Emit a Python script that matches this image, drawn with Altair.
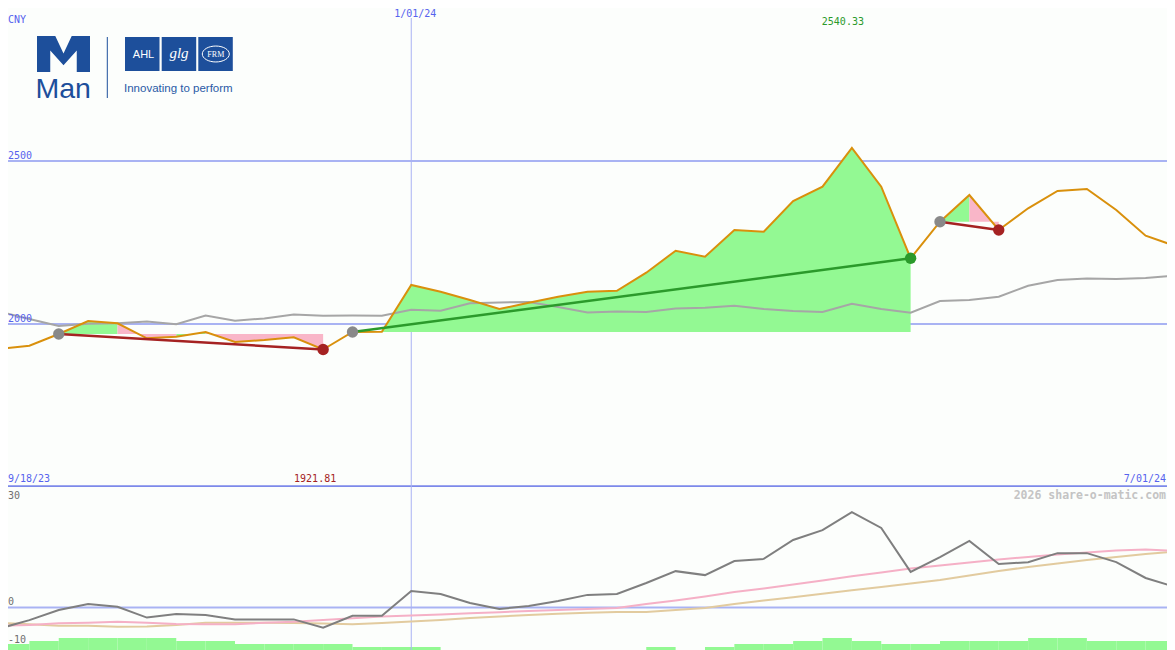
import math
import altair as alt
import pandas as pd

# ---------------- data (weekly closes, 9/25/23 .. 7/01/24) ----------------
week = list(range(41))
price = [1924.2, 1933.4, 1969.3, 2009.2, 2002.1, 1956.1, 1961.0, 1975.5, 1944.8, 1950.9,
         1959.2, 1921.81, 1975.5, 1975.9, 2119.6, 2099.0, 2073.6, 2046.0, 2065.3, 2083.7,
         2099.0, 2102.0, 2157.4, 2224.8, 2206.4, 2288.3, 2283.1, 2377.3, 2421.2, 2540.33,
         2421.2, 2201.5, 2313.8, 2395.7, 2288.3, 2354.9, 2408.0, 2414.1, 2349.7, 2270.9, 2239.3]
ma = [2037.7, 2015.3, 1993.9, 2000.9, 2002.1, 2007.7, 1999.1, 2026.1, 2010.1, 2016.9,
      2029.1, 2025.5, 2026.1, 2025.5, 2043.9, 2040.8, 2063.5, 2066.0, 2067.5, 2052.1,
      2035.3, 2038.3, 2036.8, 2047.5, 2050.0, 2056.1, 2046.0, 2039.9, 2036.8, 2062.3,
      2046.0, 2034.7, 2070.6, 2073.6, 2083.7, 2117.5, 2135.0, 2139.6, 2138.0, 2141.1, 2148.2]
mom = [-5.8, -3.5, -0.7, 1.0, 0.2, -2.8, -1.8, -2.1, -3.3, -3.3,
       -3.3, -5.6, -2.3, -2.3, 4.6, 3.75, 1.25, -0.4, 0.4, 1.8,
       3.5, 3.75, 6.8, 10.1, 9.0, 12.9, 13.5, 18.75, 21.5, 26.5,
       22.1, 9.9, 14.0, 18.5, 12.1, 12.6, 15.1, 15.1, 12.6, 8.2, 5.7]
sig_pink = [-5.06, -4.86, -4.39, -4.22, -3.94, -4.22, -4.58, -4.67, -4.67, -4.22,
            -3.94, -3.47, -3.0, -2.5, -2.22, -1.94, -1.61, -1.31, -0.97, -0.69,
            -0.42, -0.14, 0.97, 1.94, 3.06, 4.31, 5.28, 6.39, 7.5, 8.67,
            9.72, 10.83, 11.67, 12.5, 13.33, 14.03, 14.72, 15.28, 15.83, 16.11, 15.69]
sig_tan = [-4.22, -4.67, -5.06, -5.06, -5.33, -5.28, -4.86, -4.22, -4.22, -4.22,
           -4.31, -4.44, -4.67, -4.31, -3.89, -3.47, -2.92, -2.5, -2.08, -1.75,
           -1.47, -1.25, -1.25, -0.69, -0.14, 0.97, 1.92, 2.86, 3.81, 4.78,
           5.72, 6.67, 7.64, 8.89, 10.14, 11.25, 12.22, 13.19, 14.03, 14.86, 15.56]
# top of each weekly histogram bar (None = no bar)
vol_top = [-10.14, -9.31, -8.47, -8.47, -8.47, -8.47, -9.31, -9.31, -10.14, -10.14,
           -10.14, -10.14, -10.97, -10.97, -10.97, None, None, None, None, None,
           None, None, -10.97, None, -10.97, -10.14, -10.14, -9.31, -8.47, -9.31,
           -10.14, -10.14, -9.31, -9.31, -9.31, -8.47, -8.47, -9.31, -9.31, -9.31]
trade_entry = [2, 12, 32]
trade_exit = [11, 31, 34]
year_mark = 14  # 1/01/24
price_levels = [2000, 2500]

# ---------------- styles ----------------
BG = "#fcfefc"
GRID = "#a9b3f3"
SEP = "#7c89ea"
BLUE_TXT = "#5663ee"
ORANGE = "#d9900c"
MA_GRAY = "#a6a6a6"
MOM_GRAY = "#7f7f7f"
PINK_LINE = "#f5b0c6"
TAN_LINE = "#e2cb9f"
GREEN_FILL = "#93f993"
PINK_FILL = "#f9b6c8"
WIN = "#2b9a2b"
LOSS = "#a52222"
ENTRY = "#898989"
LOGO = "#1d4f9b"
MONO = "DejaVu Sans Mono"

W, HT, HB = 1159, 479, 163
xs = alt.Scale(domain=[8 / 29.375, 1167 / 29.375], nice=False, zero=False)
ys_top = alt.Scale(domain=[1500, 2969.3], nice=False, zero=False)
ys_bot = alt.Scale(domain=[-11.806, 33.47], nice=False, zero=False)

one = pd.DataFrame({"k": [0]})


def X(f):
    return alt.X(f, type="quantitative", scale=xs, axis=None)


def YT(f):
    return alt.Y(f, type="quantitative", scale=ys_top, axis=None)


def YB(f):
    return alt.Y(f, type="quantitative", scale=ys_bot, axis=None)


def text_mark(data, text, x, y, color, size=10, align="left", weight="normal", font=MONO,
              dx=0, dy=0, style="normal", clip=False):
    return alt.Chart(data).mark_text(
        text=text, align=align, baseline="middle", font=font, fontSize=size,
        fontWeight=weight, fontStyle=style, color=color, dx=dx, dy=dy, clip=clip
    ).encode(x=x, y=y)


def label(text, x, y, color, **kw):
    return text_mark(one, text, alt.value(x), alt.value(y), color, **kw)


# ---------------- tables ----------------
top_df = pd.DataFrame({"i": week, "price": price, "ma": ma})
bot_df = pd.DataFrame({"i": week, "mom": mom, "pink": sig_pink, "tan": sig_tan})

fill_rows, trade_rows, dot_rows = [], [], []
run_id = 0
for t, (a, b) in enumerate(zip(trade_entry, trade_exit)):
    e = price[a]
    res = "win" if price[b] > e else "loss"
    trade_rows += [{"t": t, "i": a, "p": price[a], "res": res},
                   {"t": t, "i": b, "p": price[b], "res": res}]
    dot_rows += [{"i": a, "p": price[a], "kind": "entry"},
                 {"i": b, "p": price[b], "kind": res}]
    prev = None
    for k in range(a, b):
        c = "up" if price[k + 1] >= e else "down"
        if c != prev:
            run_id += 1
            fill_rows.append({"run": run_id, "i": k, "p": price[k], "e": e, "c": c})
        fill_rows.append({"run": run_id, "i": k + 1, "p": price[k + 1], "e": e, "c": c})
        prev = c
fill_df = pd.DataFrame(fill_rows)
trade_df = pd.DataFrame(trade_rows)
dot_df = pd.DataFrame(dot_rows)

bar_df = pd.DataFrame({"s": [k for k, v in enumerate(vol_top) if v is not None],
                       "e": [k + 1 for k, v in enumerate(vol_top) if v is not None],
                       "v": [v for v in vol_top if v is not None]})

imax = max(week, key=lambda j: price[j])
imin = min(week, key=lambda j: price[j])
mark_df = pd.DataFrame({"i": [year_mark]})
max_df = pd.DataFrame({"i": [imax]})
min_df = pd.DataFrame({"i": [imin]})

# ---------------- top panel ----------------
grid = alt.Chart(pd.DataFrame({"lvl": price_levels})).mark_rule(
    color=GRID, strokeWidth=2, clip=True).encode(y=YT("lvl"))
sep = alt.Chart(one).mark_rule(color=SEP, strokeWidth=2, clip=True).encode(
    x=alt.value(0), x2=alt.value(W), y=alt.value(478.2))
vline_top = alt.Chart(mark_df).mark_rule(color=GRID, strokeWidth=1, clip=True).encode(
    x=X("i"), y=alt.value(10), y2=alt.value(HT))


def fill_layer(cat, color):
    return alt.Chart(fill_df[fill_df["c"] == cat]).mark_area(
        opacity=1, clip=True, color=color).encode(
        x=X("i"), y=YT("p"), y2="e:Q", detail="run:N")


ma_line = alt.Chart(top_df).mark_line(color=MA_GRAY, strokeWidth=2, clip=True).encode(
    x=X("i"), y=YT("ma"))
price_line = alt.Chart(top_df).mark_line(color=ORANGE, strokeWidth=2, clip=True).encode(
    x=X("i"), y=YT("price"))


def trade_layer(res, color):
    return alt.Chart(trade_df[trade_df["res"] == res]).mark_line(
        strokeWidth=2.5, clip=True, color=color).encode(x=X("i"), y=YT("p"), detail="t:N")


def dot_layer(kind, color):
    return alt.Chart(dot_df[dot_df["kind"] == kind]).mark_circle(
        size=130, opacity=1, clip=True, color=color).encode(x=X("i"), y=YT("p"))


lvl_df = pd.DataFrame({"lvl": price_levels, "txt": [str(v) for v in price_levels]})
top_texts = [
    label("CNY", 0, 12, BLUE_TXT),
    text_mark(mark_df, "1/01/24", X("i"), alt.value(5.5), BLUE_TXT, align="center", dx=4, clip=True),
    text_mark(max_df, f"{price[imax]:.2f}", X("i"), alt.value(14), WIN, align="center", dx=-9),
    alt.Chart(lvl_df).mark_text(align="left", baseline="middle", font=MONO, fontSize=10,
                                color=BLUE_TXT, dy=-5).encode(
        x=alt.value(0), y=YT("lvl"), text="txt:N"),
    label("9/18/23", 0, 471, BLUE_TXT),
    text_mark(min_df, f"{price[imin]:.2f}", X("i"), alt.value(471), LOSS, align="center", dx=-8),
    label("7/01/24", W - 1, 471, BLUE_TXT, align="right"),
]

# logo
M_PATH = ("M-1,-0.68L-0.31,-0.68L0,-0.02L0.31,-0.68L1,-0.68L1,0.68L0.5,0.68L0.5,-0.136"
          "L0,0.428L-0.5,-0.136L-0.5,0.68L-1,0.68Z")
ring = [(math.cos(2 * math.pi * k / 32), 0.59 * math.sin(2 * math.pi * k / 32)) for k in range(32)]
ELLIPSE = "M" + "L".join(f"{a:.3f},{b:.3f}" for a, b in ring) + "Z"
logo = [
    alt.Chart(one).mark_point(shape=M_PATH, size=53 * 53, filled=True, opacity=1,
                              color=LOGO, strokeWidth=0).encode(x=alt.value(55.5), y=alt.value(46)),
    alt.Chart(one).mark_text(text="Man", align="left", baseline="alphabetic",
                             font="Liberation Sans", fontSize=28.5,
                             color=LOGO).encode(x=alt.value(27.5), y=alt.value(89.5)),
    alt.Chart(one).mark_rule(color=LOGO, strokeWidth=1).encode(
        x=alt.value(99.3), y=alt.value(29), y2=alt.value(90)),
]
for x0 in (117, 153.7, 190.3):
    logo.append(alt.Chart(one).mark_rect(color=LOGO).encode(
        x=alt.value(x0), x2=alt.value(x0 + 34.5), y=alt.value(29), y2=alt.value(63)))
logo += [
    label("AHL", 135.5, 46.5, "white", size=11, align="center", font="Liberation Sans"),
    label("glg", 171, 45, "white", size=15, align="center", font="Liberation Serif", style="italic"),
    alt.Chart(one).mark_point(shape=ELLIPSE, size=27 * 27, filled=False, opacity=1,
                              color="white", strokeWidth=1).encode(x=alt.value(207.8), y=alt.value(46)),
    label("FRM", 207.8, 46.5, "white", size=8, align="center", font="Liberation Serif"),
    label("Innovating to perform", 116, 80.5, "#2a5aa6", size=11.5, font="Liberation Sans"),
]

top = alt.layer(grid, sep, vline_top,
                fill_layer("up", GREEN_FILL), fill_layer("down", PINK_FILL),
                ma_line, price_line,
                trade_layer("win", WIN), trade_layer("loss", LOSS),
                dot_layer("entry", ENTRY), dot_layer("win", WIN), dot_layer("loss", LOSS),
                *top_texts, *logo).properties(width=W, height=HT)

# ---------------- bottom panel ----------------
bars = alt.Chart(bar_df).mark_rect(color=GREEN_FILL, clip=True).encode(
    x=X("s"), x2="e", y=YB("v"), y2=alt.value(HB))
zero = alt.Chart(pd.DataFrame({"z": [0]})).mark_rule(color=GRID, strokeWidth=2, clip=True).encode(
    y=YB("z"))
vline_bot = alt.Chart(mark_df).mark_rule(color=GRID, strokeWidth=1, clip=True).encode(
    x=X("i"), y=alt.value(0), y2=alt.value(HB))
tan_line = alt.Chart(bot_df).mark_line(color=TAN_LINE, strokeWidth=2, clip=True).encode(
    x=X("i"), y=YB("tan"))
pink_line = alt.Chart(bot_df).mark_line(color=PINK_LINE, strokeWidth=2, clip=True).encode(
    x=X("i"), y=YB("pink"))
mom_line = alt.Chart(bot_df).mark_line(color=MOM_GRAY, strokeWidth=2, clip=True).encode(
    x=X("i"), y=YB("mom"))

bot_texts = [
    label("30", 0, 8.7, "#6f6f6f"),
    label("0", 0, 115, "#6f6f6f"),
    label("-10", 0, 153, "#6f6f6f"),
    label("2026 share-o-matic.com", W - 1, 8.7, "#c4c4c4", size=11.5, align="right", weight="bold"),
]

bottom = alt.layer(bars, zero, vline_bot, tan_line, pink_line, mom_line,
                   *bot_texts).properties(width=W, height=HB)

chart = alt.vconcat(top, bottom, spacing=0).properties(
    padding=0, background=BG).configure_view(stroke=None)

chart.save("out.html", embed_options={"renderer": "svg", "actions": False})
